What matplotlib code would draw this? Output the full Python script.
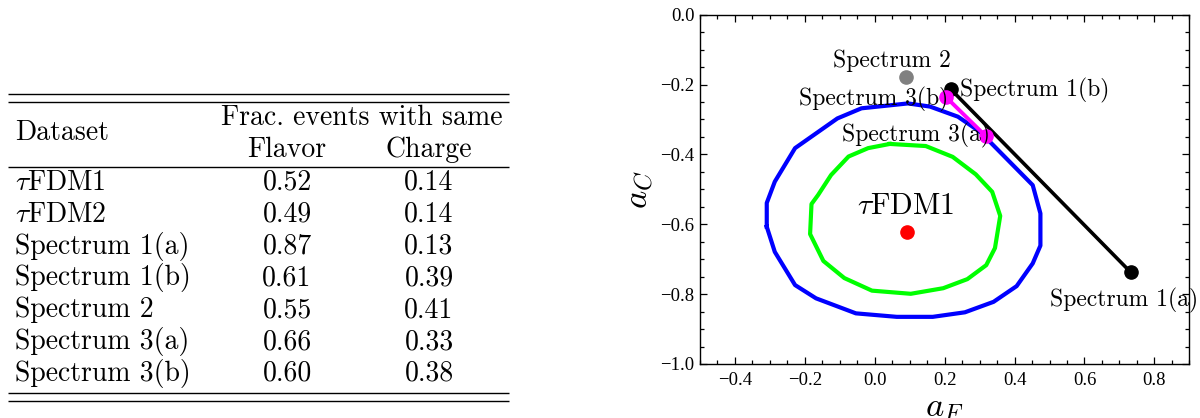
import numpy as np
import matplotlib
matplotlib.use("Agg")
import matplotlib.pyplot as plt
from matplotlib.ticker import MultipleLocator, FuncFormatter


plt.rcParams["mathtext.fontset"] = "cm"
plt.rcParams["font.family"] = ["Liberation Serif", "DejaVu Serif"]
plt.rcParams["xtick.labelsize"] = 13.5
plt.rcParams["ytick.labelsize"] = 13.5

# table data
datasets = [r"$\tau$FDM1", r"$\tau$FDM2", "Spectrum 1(a)", "Spectrum 1(b)",
            "Spectrum 2", "Spectrum 3(a)", "Spectrum 3(b)"]
frac_flavor = ["0.52", "0.49", "0.87", "0.61", "0.55", "0.66", "0.60"]
frac_charge = ["0.14", "0.14", "0.13", "0.39", "0.41", "0.33", "0.38"]

# contour polygons (a_F, a_C)
blue_x = [-0.309, -0.309, -0.286, -0.228, -0.107, -0.038, 0.095, 0.158, 0.238,
          0.301, 0.452, 0.474, 0.474, 0.452, 0.406, 0.340, 0.258, 0.166,
          0.063, -0.054, -0.168, -0.228, -0.286]
blue_y = [-0.607, -0.539, -0.478, -0.382, -0.297, -0.268, -0.254, -0.263, -0.292,
          -0.335, -0.488, -0.569, -0.661, -0.712, -0.777, -0.822, -0.852, -0.865,
          -0.865, -0.855, -0.812, -0.774, -0.679]

green_x = [0.043, 0.146, 0.223, 0.289, 0.336, 0.359, 0.344, 0.319, 0.265, 0.196,
           0.103, -0.008, -0.087, -0.147, -0.185, -0.181, -0.162, -0.125,
           -0.075, -0.019]
green_y = [-0.370, -0.376, -0.407, -0.457, -0.507, -0.576, -0.668, -0.717, -0.757,
           -0.783, -0.799, -0.790, -0.754, -0.705, -0.628, -0.542, -0.516, -0.459,
           -0.406, -0.382]

# points (a_F, a_C)
tau_pt = (0.092, -0.623)
spec2_pt = (0.090, -0.179)
spec1_x = [0.217, 0.733]   # 1(b), 1(a)
spec1_y = [-0.213, -0.738]
spec3_x = [0.203, 0.317]   # 3(b), 3(a)
spec3_y = [-0.235, -0.347]


fig = plt.figure(figsize=(12, 4.18), dpi=100)

# ------------------------------------------------------------
# Table (left), drawn in pixel coordinates
# ------------------------------------------------------------
tab = fig.add_axes([0, 0, 1, 1])
tab.set_xlim(0, 1200)
tab.set_ylim(418, 0)
tab.axis("off")

TFONT = dict(family="cmr10", fontsize=20, color="black")

for y in (94, 102, 167.3, 392.7, 400.7):
    tab.plot([8.3, 509.3], [y, y], color="black", lw=1.0, solid_capstyle="butt")

tab.text(15, 140, "Dataset", ha="left", va="baseline", **TFONT)
tab.text(362, 125, "Frac. events with same", ha="center", va="baseline", **TFONT)
tab.text(287, 156.7, "Flavor", ha="center", va="baseline", **TFONT)
tab.text(429, 156.7, "Charge", ha="center", va="baseline", **TFONT)

for i, (name, fl, ch) in enumerate(zip(datasets, frac_flavor, frac_charge)):
    yb = 190 + i * 31.8
    tab.text(15, yb, name, ha="left", va="baseline", **TFONT)
    tab.text(287, yb, fl, ha="center", va="baseline", **TFONT)
    tab.text(429, yb, ch, ha="center", va="baseline", **TFONT)

# ------------------------------------------------------------
# Plot (right)
# ------------------------------------------------------------
ax = fig.add_axes([700 / 1200, 1 - 364 / 418, 489.3 / 1200, 349.3 / 418])

ax.plot(blue_x + blue_x[:1], blue_y + blue_y[:1], color="#0000ff", lw=3.0)
ax.plot(green_x + green_x[:1], green_y + green_y[:1], color="#00ff00", lw=3.0)

ax.plot(spec1_x, spec1_y, color="black", lw=2.6, marker="o", ms=9.5)
ax.plot(spec3_x, spec3_y, color="#ff00ff", lw=2.8, marker="o", ms=9.5)
ax.plot(*spec2_pt, "o", color="#808080", ms=9.5)
ax.plot(*tau_pt, "o", color="#ff0000", ms=9.5)

LFONT = dict(family="cmr10", fontsize=17, color="black", va="baseline")
ax.text(0.049, -0.149, "Spectrum 2", ha="center", **LFONT)
ax.text(0.2445, -0.233, "Spectrum 1(b)", ha="left", **LFONT)
ax.text(0.209, -0.259, "Spectrum 3(b)", ha="right", **LFONT)
ax.text(-0.0925, -0.364, "Spectrum 3(a)", ha="left", **LFONT)
ax.text(0.502, -0.834, "Spectrum 1(a)", ha="left", clip_on=False, **LFONT)
ax.text(0.089, -0.571, r"$\tau$FDM1", ha="center", va="baseline",
        family="cmr10", fontsize=21.5)

ax.set_xlim(-0.5, 0.9)
ax.set_ylim(-1.0, 0.0)

ax.xaxis.set_major_locator(MultipleLocator(0.2))
ax.xaxis.set_minor_locator(MultipleLocator(0.05))
ax.yaxis.set_major_locator(MultipleLocator(0.2))
ax.yaxis.set_minor_locator(MultipleLocator(0.05))
fmt = FuncFormatter(lambda v, p: f"{v:.1f}".replace("-", "\u2212"))
ax.xaxis.set_major_formatter(fmt)
ax.yaxis.set_major_formatter(fmt)

ax.tick_params(which="both", direction="in", top=True, right=True, width=0.9)
ax.tick_params(which="major", length=5)
ax.tick_params(which="minor", length=2.8)
ax.tick_params(axis="x", pad=6)
ax.tick_params(axis="y", pad=4)

for s in ax.spines.values():
    s.set_linewidth(1.0)

ax.set_xlabel(r"$a_F$", fontsize=25, labelpad=1)
ax.set_ylabel(r"$a_C$", fontsize=25, labelpad=3)

fig.savefig("out.png", dpi=100)
